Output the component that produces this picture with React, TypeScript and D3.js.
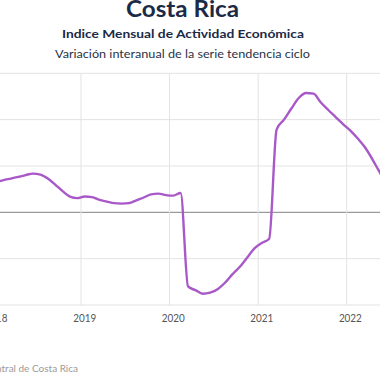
import React from "react";
import * as d3 from "d3";

const startYear = 2018;
// Monthly values, Jan 2018 onward (year-over-year %, trend-cycle)
const values: number[] = [
  3.25, 3.48, 3.64, 3.82, 4.02, 4.18, 4.07, 3.64, 2.99, 2.29, 1.7, 1.53,
  1.7, 1.64, 1.34, 1.16, 0.99, 0.94, 0.99, 1.3, 1.6, 1.93, 2.02, 1.86,
  1.8, 2.09, -8.0, -8.4, -8.78, -8.66, -8.3, -7.6, -6.7, -5.9, -4.9, -3.9,
  -3.3, -2.85, 8.93, 10.0, 11.2, 12.33, 12.87, 12.8, 11.85, 11.04, 10.28, 9.52,
  8.82, 7.96, 6.99, 5.69, 4.29, 3.0, 2.0,
];
const yearLabels = ["2018", "2019", "2020", "2021", "2022"];
const yTicks = [-10, -5, 0, 5, 10, 15];

const title = "Costa Rica";
const subtitle = "Indice Mensual de  Actividad Económica";
const subtitle2 = "Variación interanual de la serie tendencia ciclo";
const source = "Fuente: Banco Central de Costa Rica";

export default function App() {
  const W = 380;
  const H = 380;
  const x = d3.scaleLinear().domain([12, 48]).range([81, 346.7]);
  const y = d3.scaleLinear().domain([-10, 15]).range([305, 73.3]);
  const line = d3
    .line<number>()
    .x((_, i) => x(i + 0.5))
    .y((d) => y(d))
    .curve(d3.curveMonotoneX);

  const navy = "#1b2a47";
  const font = "Lato, 'Noto Sans', sans-serif";

  return (
    <svg
      width={W}
      height={H}
      style={{ position: "absolute", left: 0, top: 0, display: "block" }}
      fontFamily={font}
    >
      <rect width={W} height={H} fill="#fff" />
      {yTicks.map((t) => (
        <line
          key={t}
          x1={0}
          x2={W}
          y1={y(t)}
          y2={y(t)}
          stroke={t === 0 ? "#9a9a9a" : "#e3e3e3"}
          strokeWidth={t === 0 ? 1.3 : 1}
        />
      ))}
      {yearLabels.map((lab, k) => (
        <line
          key={lab}
          x1={x(k * 12)}
          x2={x(k * 12)}
          y1={y(15)}
          y2={y(-10)}
          stroke="#e3e3e3"
          strokeWidth={1}
        />
      ))}
      {yearLabels.map((lab, k) => (
        <text
          key={lab}
          x={x(k * 12 + 0.5)}
          y={321.5}
          textAnchor="middle"
          fontSize={11}
          fill="#555"
          textLength={23}
          lengthAdjust="spacingAndGlyphs"
        >
          {lab}
        </text>
      ))}
      <path
        d={line(values) || ""}
        fill="none"
        stroke="#a958c8"
        strokeWidth={2.4}
        strokeLinejoin="round"
      />
      <text
        x={182.5}
        y={17.3}
        textAnchor="middle"
        fontSize={22}
        fontWeight={700}
        fill={navy}
        textLength={113}
        lengthAdjust="spacingAndGlyphs"
      >
        {title}
      </text>
      <text
        x={183}
        y={37.7}
        textAnchor="middle"
        fontSize={11.5}
        fontWeight={700}
        fill={navy}
        textLength={242}
        lengthAdjust="spacingAndGlyphs"
      >
        {subtitle}
      </text>
      <text
        x={182.5}
        y={57.7}
        textAnchor="middle"
        fontSize={11}
        fill="#2a3347"
        textLength={255}
        lengthAdjust="spacingAndGlyphs"
      >
        {subtitle2}
      </text>
      <text
        x={78}
        y={371.5}
        textAnchor="end"
        fontSize={10}
        fill="#9a9a9a"
      >
        {source}
      </text>
    </svg>
  );
}
